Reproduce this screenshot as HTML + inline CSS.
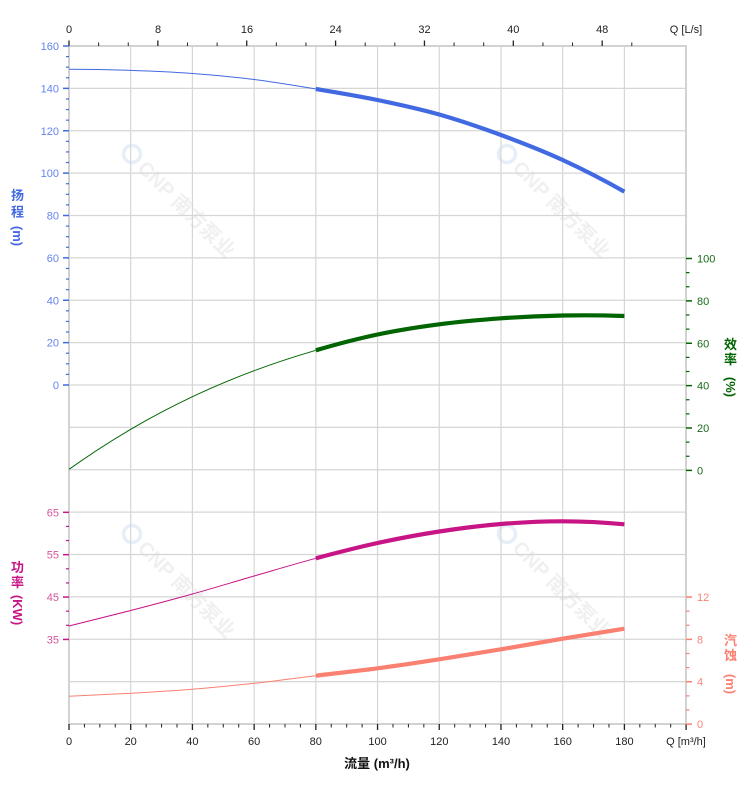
<!DOCTYPE html>
<html><head><meta charset="utf-8">
<style>
html,body{margin:0;padding:0;background:#fff;width:752px;height:797px;overflow:hidden}
svg{display:block}
text{font-family:"Liberation Sans","Noto Sans CJK SC",sans-serif;font-size:11px}
.t{font-size:13px;font-weight:bold}
.wm{font-size:20px;font-weight:bold;fill:#f0f0f0}
</style></head><body>
<svg id="s" width="752" height="797" viewBox="0 0 752 797" xmlns="http://www.w3.org/2000/svg">
<!-- watermarks -->
<g transform="translate(132,154) rotate(45)">
<circle cx="0" cy="0" r="8.5" fill="none" stroke="#e6eff9" stroke-width="3.5"/>
<text class="wm" x="14" y="7.5">CNP 南方泵业</text>
</g>
<g transform="translate(507,154) rotate(45)">
<circle cx="0" cy="0" r="8.5" fill="none" stroke="#e6eff9" stroke-width="3.5"/>
<text class="wm" x="14" y="7.5">CNP 南方泵业</text>
</g>
<g transform="translate(132,534) rotate(45)">
<circle cx="0" cy="0" r="8.5" fill="none" stroke="#e6eff9" stroke-width="3.5"/>
<text class="wm" x="14" y="7.5">CNP 南方泵业</text>
</g>
<g transform="translate(507,534) rotate(45)">
<circle cx="0" cy="0" r="8.5" fill="none" stroke="#e6eff9" stroke-width="3.5"/>
<text class="wm" x="14" y="7.5">CNP 南方泵业</text>
</g>
<g id="grid"></g>
<g id="ticks"></g>
<g id="curves"></g>

<!-- top labels -->
<g fill="#222" text-anchor="middle">
<text x="69" y="33">0</text>
<text x="158" y="33">8</text>
<text x="247" y="33">16</text>
<text x="335.6" y="33">24</text>
<text x="424.5" y="33">32</text>
<text x="513.3" y="33">40</text>
<text x="602.2" y="33">48</text>
<text x="686" y="33">Q [L/s]</text>
</g>
<!-- bottom labels -->
<g fill="#222" text-anchor="middle">
<text x="69" y="745">0</text>
<text x="130.7" y="745">20</text>
<text x="192.4" y="745">40</text>
<text x="254.1" y="745">60</text>
<text x="315.8" y="745">80</text>
<text x="377.6" y="745">100</text>
<text x="439.3" y="745">120</text>
<text x="501" y="745">140</text>
<text x="562.7" y="745">160</text>
<text x="624.4" y="745">180</text>
<text x="686" y="745">Q [m³/h]</text>
</g>
<text class="t" x="377" y="768" text-anchor="middle" fill="#111">流量 (m³/h)</text>

<!-- head labels -->
<g fill="#6384f0" text-anchor="end">
<text x="59" y="50">160</text>
<text x="59" y="92.4">140</text>
<text x="59" y="134.8">120</text>
<text x="59" y="177.1">100</text>
<text x="59" y="219.5">80</text>
<text x="59" y="261.9">60</text>
<text x="59" y="304.3">40</text>
<text x="59" y="346.6">20</text>
<text x="59" y="389">0</text>
</g>
<g fill="#4169e1" text-anchor="middle">
<text class="t" x="17.5" y="200">扬</text>
<text class="t" x="17.5" y="216.5">程</text>
<text class="t" transform="translate(13,236) rotate(90)" text-anchor="middle">(m)</text>
</g>

<!-- power labels -->
<g fill="#d2559b" text-anchor="end">
<text x="59" y="516.3">65</text>
<text x="59" y="558.7">55</text>
<text x="59" y="601">45</text>
<text x="59" y="643.4">35</text>
</g>
<g fill="#c71585" text-anchor="middle">
<text class="t" x="17.5" y="572">功</text>
<text class="t" x="17.5" y="587">率</text>
<text class="t" transform="translate(13,610) rotate(90)" text-anchor="middle">(KW)</text>
</g>

<!-- efficiency labels -->
<g fill="#1a6a1a" text-anchor="start">
<text x="697" y="262.5">100</text>
<text x="697" y="304.9">80</text>
<text x="697" y="347.3">60</text>
<text x="697" y="389.6">40</text>
<text x="697" y="432">20</text>
<text x="697" y="474.4">0</text>
</g>
<g fill="#006400" text-anchor="middle">
<text class="t" x="730.5" y="349">效</text>
<text class="t" x="730.5" y="364">率</text>
<text class="t" transform="translate(726,387) rotate(90)" text-anchor="middle">(%)</text>
</g>

<!-- npsh labels -->
<g fill="#f8857a" text-anchor="start">
<text x="697" y="601">12</text>
<text x="697" y="643.4">8</text>
<text x="697" y="685.6">4</text>
<text x="697" y="728">0</text>
</g>
<g fill="#fa8072" text-anchor="middle">
<text class="t" x="730.5" y="645">汽</text>
<text class="t" x="730.5" y="660">蚀</text>
<text class="t" transform="translate(726,684) rotate(90)" text-anchor="middle">(m)</text>
</g>
</svg>
<script>
(function(){
var NS="http://www.w3.org/2000/svg";
function el(parent,tag,attrs){var e=document.createElementNS(NS,tag);for(var k in attrs)e.setAttribute(k,attrs[k]);document.getElementById(parent).appendChild(e);return e;}
function line(p,x1,y1,x2,y2,c,w){el(p,'line',{x1:x1,y1:y1,x2:x2,y2:y2,stroke:c,'stroke-width':w});}
var X0=69,X1=686,Y0=46,Y1=724,dx=3.0855,gy=42.375;
for(var k=1;k<10;k++){var x=X0+k*20*dx;line('grid',x,Y0,x,Y1,'#d6d6d6',1.2);}
for(var k=1;k<16;k++){var y=Y0+k*gy;line('grid',X0,y,X1,y,'#d6d6d6',1.2);}
line('grid',X0,Y0-1,X0,Y1+1,'#d2d2d2',2);
line('grid',X1,Y0-1,X1,Y1+1,'#d2d2d2',2);
line('grid',X0-1,Y0,X1+1,Y0,'#d2d2d2',2);
line('grid',X0-1,Y1,X1+1,Y1,'#d2d2d2',2);
for(var k=0;k<=40;k++){var x=X0+k*5*dx;var m=(k%4==0);line('ticks',x,Y1,x,Y1+(m?6:3.5),'#222',m?1.3:1);}
for(var k=0;k<=19;k++){var x=X0+k*(8/3)*3.6*dx;var m=(k%3==0);line('ticks',x,Y0,x,Y0-(m?5.5:3.5),'#222',m?1.3:1);}
for(var k=0;k<=32;k++){var y=Y0+k*gy/4;var m=(k%4==0);line('ticks',m?63:66,y,69,y,'#4169e1',m?1.5:1.2);}
var e0=258.5;
for(var k=0;k<=15;k++){var y=e0+k*gy/3;var m=(k%3==0);line('ticks',686,y,m?692:689.5,y,'#006400',m?1.5:1.2);}
var p0=512.3;
for(var k=0;k<=9;k++){var y=p0+k*gy/3;var m=(k%3==0);line('ticks',m?63:66,y,69,y,'#c71585',m?1.5:1.2);}
var n0=597;
for(var k=0;k<=9;k++){var y=n0+k*gy/3;var m=(k%3==0);line('ticks',686,y,m?692:689.5,y,'#fa8072',m?1.5:1.2);}
var xs=[];for(var i=0;i<10;i++)xs.push(X0+i*20*dx);
function seg(ys,a,b){
 var n=ys.length,pts=xs.map(function(x,i){return[x,ys[i]];});
 function P(i){
  if(i<0){return[3*pts[0][0]-3*pts[1][0]+pts[2][0],3*pts[0][1]-3*pts[1][1]+pts[2][1]];}
  if(i>n-1){return[3*pts[n-1][0]-3*pts[n-2][0]+pts[n-3][0],3*pts[n-1][1]-3*pts[n-2][1]+pts[n-3][1]];}
  return pts[i];
 }
 var d='M'+pts[a][0].toFixed(2)+','+pts[a][1].toFixed(2);
 for(var i=a;i<b;i++){
  var A=P(i-1),B=P(i),C=P(i+1),D=P(i+2);
  var c1=[B[0]+(C[0]-A[0])/6,B[1]+(C[1]-A[1])/6];
  var c2=[C[0]-(D[0]-B[0])/6,C[1]-(D[1]-B[1])/6];
  d+=' C'+c1[0].toFixed(2)+','+c1[1].toFixed(2)+' '+c2[0].toFixed(2)+','+c2[1].toFixed(2)+' '+C[0].toFixed(2)+','+C[1].toFixed(2);
 }
 return d;
}
function curve(ys,c){
 el('curves','path',{d:seg(ys,0,4),fill:'none',stroke:c,'stroke-width':1});
 el('curves','path',{d:seg(ys,4,9),fill:'none',stroke:c,'stroke-width':4.2,'stroke-linecap':'butt'});
}
curve([69.3,70.4,73.5,79.5,89,100,114.5,135,160,191.7],'#4169e1');
curve([469.3,429.3,396.7,370.7,350.3,334.5,324.3,318.3,315.5,316],'#006400');
curve([626,610.5,594,576,558.3,543,531.5,524,521.3,524.3],'#c71585');
curve([696.3,693.3,689.3,683.3,675.7,668.3,659.3,649.3,638.7,628.7],'#fa8072');
})();
</script>
</body></html>
